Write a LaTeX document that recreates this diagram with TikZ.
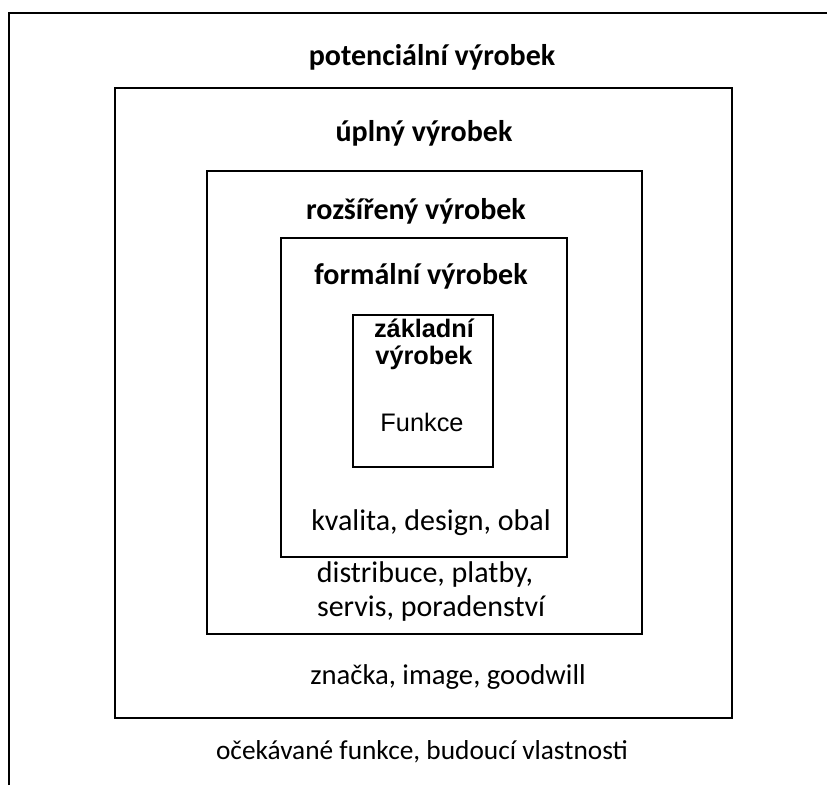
\documentclass[tikz,border=0pt]{standalone}
\usepackage{fontspec}
\setmainfont{Carlito}
\newfontfamily\arialfont{Liberation Sans}
\begin{document}
\begin{tikzpicture}[x=0.75pt,y=-0.75pt]
    \tikzstyle{every node}=[anchor=base,inner sep=0pt,font=\fontsize{22.5}{26}\selectfont];
    \tikzstyle{title}=[font=\fontsize{22.5}{26}\selectfont\bfseries];
    \tikzstyle{inner}=[font=\arialfont\fontsize{19}{22}\selectfont];
    \tikzstyle{frame}=[draw,line width=1.1pt];
    \useasboundingbox (0,0) rectangle (827,785);

    % frames, outer one is cut off
    \draw[line width=1.6pt] (9,785) -- (9,13) -- (827,13);
    \draw[frame] (115,88) rectangle (732,718);
    \draw[frame] (207,171) rectangle (642,634);
    \draw[frame] (281,238) rectangle (567,557);
    \draw[frame] (353,315) rectangle (493,467);

    \node at (432, 65)  (potencialni) [title] {potenciální výrobek};
    \node at (424, 141) (uplny) [title] {úplný výrobek};
    \node at (416, 219) (rozsireny) [title] {rozšířený výrobek};
    \node at (421, 284) (formalni) [title] {formální výrobek};
    \node at (424, 337) (zakladni) [inner,font=\arialfont\bfseries\fontsize{19}{22}\selectfont] {základní};
    \node at (424, 364) (zakladni2) [inner,font=\arialfont\bfseries\fontsize{19}{22}\selectfont] {výrobek};
    \node at (422, 431) (funkce) [inner] {Funkce};
    \node at (431, 530) (kvalita) {kvalita, design, obal};
    \node at (425, 582) (distribuce) {distribuce, platby,};
    \node at (431, 616) (servis) {servis, poradenství};
    \node at (448, 684) (znacka) [font=\fontsize{21.5}{25}\selectfont] {značka, image, goodwill};
    \node at (422, 759) (ocekavane) [font=\fontsize{20.5}{24}\selectfont] {očekávané funkce, budoucí vlastnosti};
\end{tikzpicture}
\end{document}
